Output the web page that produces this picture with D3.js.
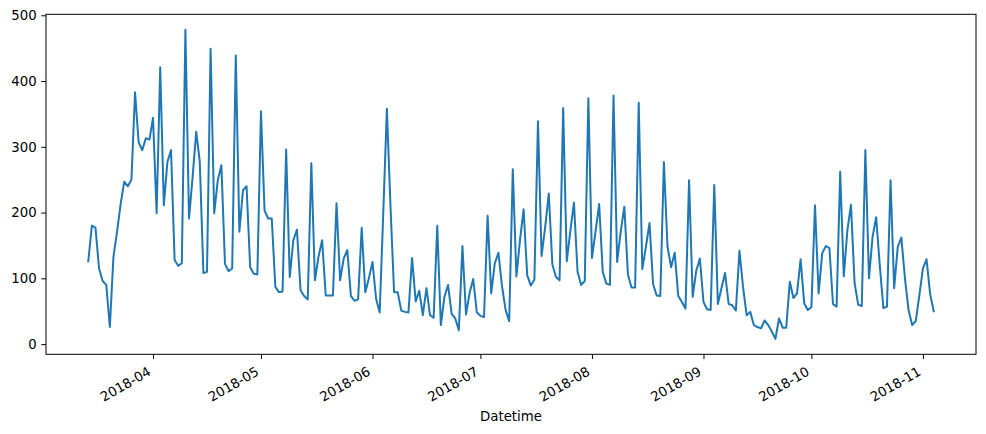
<!DOCTYPE html>
<html>
<head>
<meta charset="utf-8">
<script src="https://cdn.jsdelivr.net/npm/d3@7"></script>
<style>
  body { margin: 0; background: #fff; }
  svg { display: block; font-family: "DejaVu Sans", sans-serif; }
  .axis text { font-family: "DejaVu Sans", sans-serif; font-size: 13.3px; fill: #000; }
</style>
</head>
<body>
<div class="chart"></div>
<script>
// daily values, first day is startDate
const startDate = "2018-03-14";
const counts = [
  126, 180, 177, 115, 96, 90, 26, 133, 171, 213,
  247, 240, 250, 383, 307, 295, 313, 311, 344, 199,
  421, 211, 277, 295, 128, 119, 123, 478, 191, 254,
  323, 277, 108, 110, 449, 199, 249, 272, 122, 111,
  115, 439, 171, 234, 240, 117, 107, 106, 354, 203,
  191, 191, 87, 79, 80, 296, 102, 158, 174, 82,
  73, 68, 275, 97, 133, 158, 74, 74, 74, 214,
  97, 130, 143, 73, 66, 68, 177, 79, 100, 125,
  69, 48, 200, 358, 210, 79, 79, 51, 49, 48,
  131, 65, 81, 44, 85, 44, 40, 180, 29, 72,
  90, 46, 39, 21, 149, 45, 78, 99, 48, 43,
  41, 195, 77, 123, 139, 88, 52, 35, 266, 103,
  158, 205, 105, 89, 98, 339, 134, 178, 229, 121,
  102, 97, 359, 126, 172, 215, 110, 90, 96, 374,
  131, 171, 213, 110, 92, 90, 378, 125, 171, 209,
  106, 86, 86, 367, 114, 148, 184, 91, 74, 73,
  277, 148, 117, 139, 73, 64, 54, 249, 72, 112,
  130, 64, 53, 52, 242, 61, 85, 108, 61, 59,
  51, 142, 87, 44, 49, 29, 26, 24, 36, 29,
  19, 8, 39, 25, 25, 95, 70, 77, 129, 62,
  52, 56, 211, 77, 138, 149, 146, 61, 57, 262,
  103, 173, 212, 93, 60, 58, 295, 100, 163, 193,
  120, 55, 57, 249, 85, 148, 162, 100, 52, 29,
  35, 74, 115, 129, 76, 50
];
const xTickLabels = ["2018-04", "2018-05", "2018-06", "2018-07", "2018-08", "2018-09", "2018-10", "2018-11"];
const yTickValues = [0, 100, 200, 300, 400, 500];

const W = 986, H = 434;
const margin = {top: 14.3, right: 10, bottom: 79.7, left: 46};
const iw = W - margin.left - margin.right,
      ih = H - margin.top - margin.bottom;

const t0 = d3.utcParse("%Y-%m-%d")(startDate);
const data = counts.map((v, i) => ({date: d3.utcDay.offset(t0, i), value: v}));

// matplotlib style 5% padding
const xExt = d3.extent(data, d => d.date);
const xPad = (xExt[1] - xExt[0]) * 0.05;
const x = d3.scaleUtc()
  .domain([new Date(+xExt[0] - xPad), new Date(+xExt[1] + xPad)])
  .range([0, iw]);

const yExt = d3.extent(data, d => d.value);
const yPad = (yExt[1] - yExt[0]) * 0.05;
const y = d3.scaleLinear()
  .domain([yExt[0] - yPad, yExt[1] + yPad])
  .range([ih, 0]);

const svg = d3.select(".chart").append("svg")
  .attr("width", W)
  .attr("height", H);

const g = svg.append("g")
  .attr("transform", `translate(${margin.left},${margin.top})`);

const line = d3.line()
  .x(d => x(d.date))
  .y(d => y(d.value));

g.append("path")
  .datum(data)
  .attr("fill", "none")
  .attr("stroke", "#1f77b4")
  .attr("stroke-width", 2)
  .attr("stroke-linejoin", "round")
  .attr("stroke-linecap", "square")
  .attr("d", line);

// frame
g.append("rect")
  .attr("width", iw).attr("height", ih)
  .attr("fill", "none")
  .attr("stroke", "#000")
  .attr("stroke-width", 1);

// x axis
const parseMonth = d3.utcParse("%Y-%m");
const xAxis = g.append("g")
  .attr("class", "axis")
  .attr("font-family", null)
  .attr("font-size", null)
  .attr("transform", `translate(0,${ih})`)
  .call(d3.axisBottom(x)
    .tickValues(xTickLabels.map(parseMonth))
    .tickFormat(d3.utcFormat("%Y-%m"))
    .tickSizeInner(4.7).tickSizeOuter(0));
xAxis.select(".domain").remove();
xAxis.selectAll(".tick line").attr("stroke", "#000");
xAxis.selectAll(".tick text")
  .attr("text-anchor", "end")
  .attr("x", 0).attr("y", 0).attr("dy", null)
  .attr("transform", "translate(-1.6,20) rotate(-30)");

// y axis
const yAxis = g.append("g")
  .attr("class", "axis")
  .call(d3.axisLeft(y)
    .tickValues(yTickValues)
    .tickSizeInner(4.7).tickSizeOuter(0)
    .tickPadding(4.7));
yAxis.select(".domain").remove();
yAxis.selectAll(".tick line").attr("stroke", "#000");

svg.append("text")
  .attr("x", margin.left + iw / 2)
  .attr("y", 421.4)
  .attr("text-anchor", "middle")
  .style("font-size", "13.3px")
  .text("Datetime");
</script>
</body>
</html>
